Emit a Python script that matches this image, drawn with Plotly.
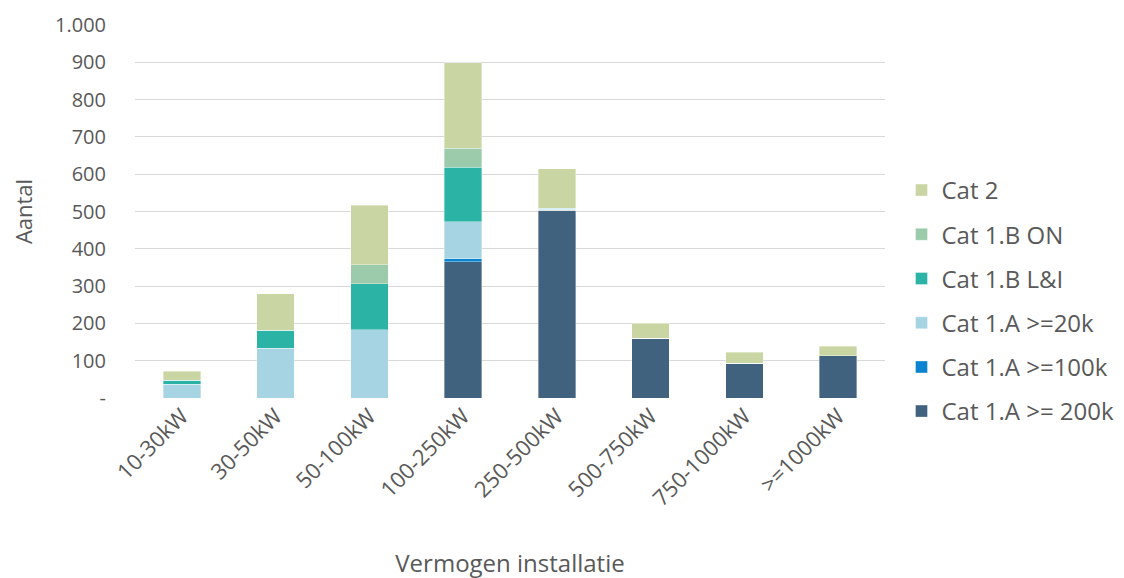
import plotly.graph_objects as go

categories = ["10-30kW", "30-50kW", "50-100kW", "100-250kW", "250-500kW", "500-750kW", "750-1000kW", ">=1000kW"]

cat1a_200k = [0, 0, 0, 365, 503, 160, 93, 113]
cat1a_100k = [0, 0, 0, 8, 0, 0, 0, 0]
cat1a_20k = [37, 133, 183, 99, 3, 0, 0, 0]
cat1b_li = [10, 48, 123, 146, 3, 0, 0, 0]
cat1b_on = [0, 0, 51, 51, 0, 0, 0, 0]
cat2 = [25, 99, 160, 230, 105, 40, 30, 26]

series_names = ["Cat 1.A >= 200k", "Cat 1.A >=100k", "Cat 1.A >=20k", "Cat 1.B L&I", "Cat 1.B ON", "Cat 2"]
series_values = [cat1a_200k, cat1a_100k, cat1a_20k, cat1b_li, cat1b_on, cat2]
series_colors = ["#41627E", "#0A84D0", "#A6D4E3", "#2BB3A6", "#9BCBAA", "#C9D6A3"]

y_tickvals = [0, 100, 200, 300, 400, 500, 600, 700, 800, 900, 1000]
y_ticktext = ["-", "100", "200", "300", "400", "500", "600", "700", "800", "900", "1.000"]

fig = go.Figure()
n = len(series_names)
for i, (name, vals, col) in enumerate(zip(series_names, series_values, series_colors)):
    fig.add_trace(go.Bar(
        x=categories, y=vals, name=name, legendgroup=name, legendrank=n - i,
        marker=dict(color=col, line=dict(color="rgba(255,255,255,0.6)", width=0.6)),
    ))

font_fam = "Open Sans, Noto Sans, sans-serif"
txt = "#595959"

fig.update_layout(
    barmode="stack",
    bargap=0.6,
    width=1124, height=578,
    margin=dict(l=127, r=245, t=17, b=188),
    plot_bgcolor="white", paper_bgcolor="white",
    font=dict(family=font_fam, color=txt, size=20),
    legend=dict(
        x=1.022, xanchor="left", y=0.26, yanchor="middle",
        traceorder="grouped", tracegroupgap=10,
        font=dict(size=24, color=txt),
        itemwidth=30,
    ),
    xaxis=dict(
        tickangle=-45, tickfont=dict(size=22, color=txt),
        title=dict(text="Vermogen installatie", font=dict(size=24, color=txt), standoff=44),
        showgrid=False, showline=False, ticks="", automargin=False,
    ),
    yaxis=dict(
        range=[0, 1000], tickvals=y_tickvals, ticktext=y_ticktext,
        tickfont=dict(size=20, color=txt),
        gridcolor="#D9D9D9", gridwidth=1, zeroline=False,
        title=dict(text="Aantal", font=dict(size=22, color=txt), standoff=18),
        ticks="", ticklabelstandoff=28, automargin=False,
    ),
)

fig.write_html("out.html")
